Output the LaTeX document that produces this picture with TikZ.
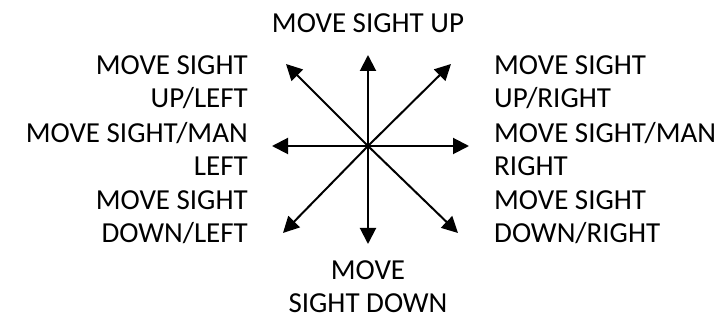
\documentclass[tikz,border=0pt]{standalone}
\usepackage{fontspec}
\setmainfont{Carlito}
\usetikzlibrary{arrows.meta}
\begin{document}
\begin{tikzpicture}[x=1pt,y=-1pt,
  lbl/.style={inner sep=0pt, font=\fontsize{29}{33.8}\selectfont},
  arr/.style={line width=2pt, -{Triangle[length=16pt,width=16pt]}}]
\useasboundingbox (0,0) rectangle (724,320);
\coordinate (c) at (368,146);
\coordinate (tu) at (368,55);
\coordinate (td) at (368,244);
\coordinate (tl) at (272,146);
\coordinate (tr) at (469,146);
\coordinate (tul) at (286,64);
\coordinate (tur) at (451,64);
\coordinate (tdl) at (283,233);
\coordinate (tdr) at (458,233);
\foreach \t in {tu,td,tl,tr,tul,tur,tdl,tdr} \draw[arr] (c) -- (\t);
\node[lbl, anchor=base] (up) at (368,33) {MOVE SIGHT UP};
\node[lbl, anchor=base east, align=right] (ul) at (248,108) {MOVE SIGHT\\UP/LEFT};
\node[lbl, anchor=base east, align=right] (l) at (248,176) {MOVE SIGHT/MAN\\LEFT};
\node[lbl, anchor=base east, align=right] (dl) at (248,243) {MOVE SIGHT\\DOWN/LEFT};
\node[lbl, anchor=base west, align=left] (ur) at (494,108) {MOVE SIGHT\\UP/RIGHT};
\node[lbl, anchor=base west, align=left] (r) at (494,176) {MOVE SIGHT/MAN\\RIGHT};
\node[lbl, anchor=base west, align=left] (dr) at (494,243) {MOVE SIGHT\\DOWN/RIGHT};
\node[lbl, anchor=base, align=center] (dn) at (368,313) {MOVE\\SIGHT DOWN};
\end{tikzpicture}
\end{document}
